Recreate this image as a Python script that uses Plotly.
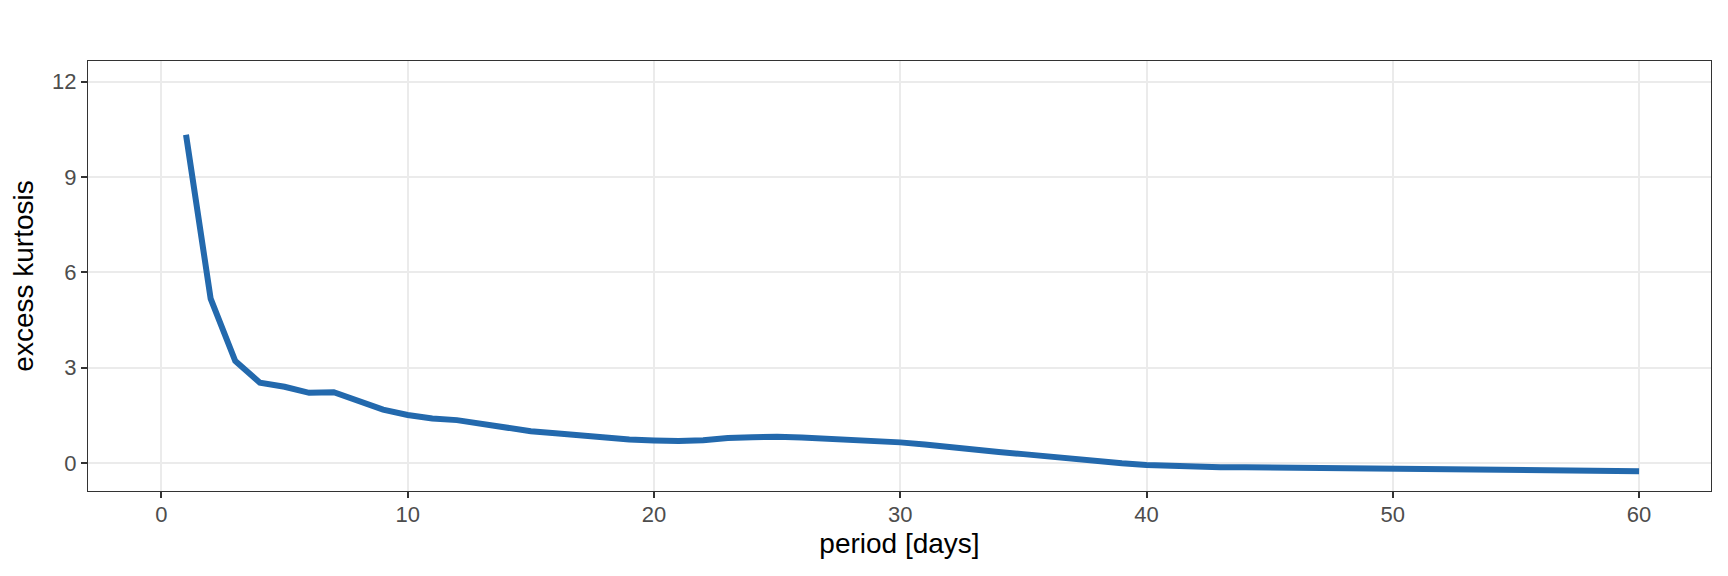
import plotly.graph_objects as go

period = list(range(1, 61))
kurtosis = [
    10.33, 5.17, 3.21, 2.53, 2.40, 2.21, 2.23, 1.94, 1.68, 1.51,
    1.40, 1.35, 1.22, 1.11, 1.00, 0.94, 0.86, 0.82, 0.74, 0.71,
    0.69, 0.72, 0.79, 0.81, 0.83, 0.80, 0.77, 0.72, 0.69, 0.65,
    0.58, 0.49, 0.42, 0.35, 0.28, 0.20, 0.12, 0.05, -0.01, -0.06,
    -0.09, -0.12, -0.13, -0.13, -0.14, -0.15, -0.15, -0.15, -0.14, -0.15,
    -0.16, -0.17, -0.19, -0.20, -0.22, -0.23, -0.24, -0.25, -0.26, -0.26,
]
x_ticks = [0, 10, 20, 30, 40, 50, 60]
y_ticks = [0, 3, 6, 9, 12]

fig = go.Figure()
fig.add_trace(go.Scatter(
    x=period, y=kurtosis, mode="lines",
    line=dict(color="#2369AD", width=6),
    showlegend=False,
))

axis_common = dict(
    showgrid=True, gridcolor="#EBEBEB", gridwidth=2,
    zeroline=False, automargin=False,
    showline=True, mirror=True, linecolor="#333333", linewidth=1.4,
    ticks="outside", ticklen=6, tickwidth=1.6, tickcolor="#333333",
    tickfont=dict(family="Liberation Sans, Arial, sans-serif", size=22, color="#4D4D4D"),
)

# the page body adds an 8px offset, so the figure is 8px smaller and margins compensate
fig.update_layout(
    width=1720, height=568,
    paper_bgcolor="white", plot_bgcolor="white",
    margin=dict(l=80, r=17, t=53, b=85),
    font=dict(family="Liberation Sans, Arial, sans-serif"),
    xaxis=dict(
        range=[-2.98, 62.92], tickvals=x_ticks, ticklabelstandoff=-3,
        title=dict(text="period [days]", font=dict(size=28, color="black"), standoff=7),
        **axis_common,
    ),
    yaxis=dict(
        range=[-0.88, 12.65], tickvals=y_ticks,
        title=dict(text="excess kurtosis", font=dict(size=28, color="black"), standoff=10),
        **axis_common,
    ),
)

fig.write_html("out.html")
